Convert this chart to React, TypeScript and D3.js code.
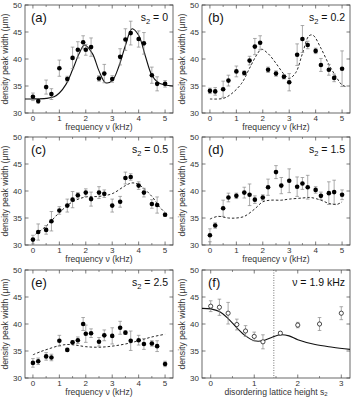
import React, { useRef, useEffect } from 'react'
import * as d3 from 'd3'

// measured points, panels (a)-(e): frequency in kHz, width in um
const freqA = [0, 0.2, 0.5, 0.7, 1, 1.3, 1.5, 1.7, 1.9, 2, 2.2, 2.5, 2.7, 3, 3.3, 3.5, 3.7, 4, 4.2, 4.5, 4.7, 5]
const widthA = [33.0, 32.2, 34.8, 33.5, 38.3, 36.3, 40.2, 41.7, 43.1, 41.7, 42.2, 36.4, 37.3, 36.3, 40.4, 43.6, 44.8, 43.7, 42.9, 37.0, 35.4, 35.4]
const errA = [0.7, 0.4, 1.3, 1.0, 1.5, 0.5, 2.0, 1.5, 1.2, 1.0, 1.7, 0.5, 1.7, 0.6, 1.5, 2.0, 2.2, 1.5, 2.0, 1.5, 1.3, 0.6]

const freqB = [0, 0.2, 0.5, 0.7, 1, 1.3, 1.5, 1.7, 1.9, 2.2, 2.5, 2.8, 3, 3.3, 3.5, 3.7, 4, 4.2, 4.5, 4.7, 5]
const widthB = [34.1, 34.0, 34.4, 36.0, 37.7, 37.4, 39.7, 42.3, 43.0, 38.0, 37.3, 36.7, 35.7, 40.8, 43.7, 42.6, 41.5, 38.9, 38.0, 36.5, 38.2]
const errB = [0.5, 0.7, 1.5, 1.0, 1.0, 0.4, 0.8, 1.5, 1.3, 0.5, 0.5, 0.4, 1.6, 2.0, 2.5, 0.7, 0.5, 1.2, 1.0, 0.7, 3.3]

const freqC = [0, 0.2, 0.5, 0.7, 1, 1.3, 1.5, 1.7, 2, 2.2, 2.5, 2.7, 3, 3.3, 3.5, 3.7, 4, 4.2, 4.5, 4.7, 5]
const widthC = [31.0, 32.4, 32.8, 34.4, 36.4, 37.3, 38.4, 39.2, 39.7, 38.5, 39.7, 39.5, 37.3, 38.0, 42.4, 42.6, 41.0, 39.7, 37.6, 37.4, 35.6]
const errC = [0.8, 1.5, 0.8, 1.8, 0.7, 1.2, 1.5, 0.5, 0.7, 1.3, 1.1, 0.7, 1.2, 1.0, 1.1, 0.6, 0.7, 0.8, 0.8, 1.5, 0.3]

const freqD = [0, 0.2, 0.5, 0.7, 1, 1.3, 1.5, 1.7, 2, 2.2, 2.5, 2.7, 3, 3.3, 3.5, 3.7, 4, 4.2, 4.5, 4.7, 5]
const widthD = [31.8, 33.6, 36.8, 38.8, 39.1, 39.7, 39.3, 38.4, 38.8, 40.7, 43.5, 41.0, 41.9, 40.8, 41.4, 40.7, 40.2, 39.1, 39.6, 39.8, 39.3]
const errD = [1.2, 0.5, 1.5, 0.8, 0.5, 1.0, 2.0, 0.7, 0.5, 1.5, 1.2, 1.5, 2.2, 1.8, 1.1, 2.2, 0.6, 0.7, 2.1, 2.2, 0.9]

const freqE = [0, 0.2, 0.5, 0.7, 1, 1.3, 1.5, 1.7, 1.9, 2, 2.2, 2.5, 2.7, 3, 3.3, 3.5, 3.7, 4, 4.2, 4.5, 4.7, 5]
const widthE = [32.8, 33.1, 34.0, 33.8, 36.9, 35.2, 36.6, 37.0, 40.0, 38.2, 38.3, 36.7, 37.9, 37.8, 39.3, 38.4, 36.9, 37.0, 36.3, 36.4, 35.9, 32.6]
const errE = [0.8, 0.6, 0.7, 0.6, 1.0, 0.3, 0.3, 0.6, 1.2, 1.6, 0.8, 0.8, 1.0, 1.5, 1.2, 0.3, 1.8, 0.9, 1.0, 0.5, 1.0, 0.5]

// panel (f): width vs disorder height at 1.9 kHz
const heightF = [0, 0.2, 0.4, 0.6, 0.8, 1.0, 1.2, 1.6, 2.0, 2.5, 3.0]
const widthF = [43.3, 43.1, 42.0, 39.9, 38.7, 37.7, 36.7, 38.3, 39.8, 40.0, 42.0]
const errF = [1.0, 1.5, 2.0, 1.0, 1.0, 0.8, 1.3, 0.3, 0.5, 1.2, 1.2]
const markerF = 1.45

// theory curves
const theoryXA = [-0.3, 0, 0.5, 0.8, 1.0, 1.25, 1.5, 1.75, 1.95, 2.25, 2.5, 2.75, 3.0, 3.25, 3.5, 3.75, 4.0, 4.25, 4.5, 4.75, 5.0, 5.3]
const theoryYA = [32.6, 32.6, 32.7, 33.0, 33.7, 35.3, 38.0, 41.0, 42.6, 41.0, 37.8, 35.6, 36.0, 38.6, 42.5, 45.6, 44.4, 40.6, 37.0, 35.6, 35.2, 35.0]
const theoryXB = [0, 0.5, 0.8, 1.2, 1.5, 1.8, 1.95, 2.2, 2.5, 2.8, 3.0, 3.25, 3.5, 3.75, 3.9, 4.2, 4.5, 4.8, 5.0, 5.2]
const theoryYB = [32.6, 32.7, 33.5, 35.5, 38.3, 41.0, 41.8, 41.0, 39.2, 37.2, 36.4, 37.5, 41.0, 44.3, 44.4, 42.0, 39.0, 36.5, 35.2, 34.8]
const theoryXC = [0.1, 0.5, 1.0, 1.5, 2.0, 2.5, 3.0, 3.5, 3.75, 4.0, 4.5, 4.8, 5.0]
const theoryYC = [32.0, 33.5, 36.0, 38.0, 38.9, 39.0, 39.5, 41.0, 41.5, 41.2, 39.0, 37.0, 36.0]
const theoryXD = [0, 0.3, 0.7, 1.0, 1.3, 1.7, 2.0, 2.3, 2.7, 3.0, 3.5, 3.8, 4.2, 4.5, 4.8, 5.0]
const theoryYD = [34.8, 35.3, 35.0, 35.0, 35.3, 36.7, 38.0, 38.3, 38.3, 38.5, 38.7, 38.8, 38.3, 37.7, 37.5, 38.0]
const theoryXE = [0, 0.3, 0.6, 1.0, 1.3, 1.6, 2.0, 2.5, 3.0, 3.5, 4.0, 4.5, 5.0]
const theoryYE = [34.3, 34.9, 35.4, 36.0, 36.2, 36.1, 35.8, 35.7, 35.9, 36.3, 36.9, 37.6, 38.1]
const theoryXF = [-0.2, 0, 0.2, 0.4, 0.6, 0.8, 1.0, 1.2, 1.4, 1.6, 1.8, 2.0, 2.4, 2.8, 3.2]
const theoryYF = [42.9, 42.8, 42.3, 41.0, 39.3, 37.8, 36.9, 36.9, 37.5, 38.0, 37.8, 37.1, 36.2, 35.7, 35.3]

const yTicks = [30, 35, 40, 45, 50]
const freqTicks = [0, 1, 2, 3, 4, 5]
const heightTicks = [0, 1, 2, 3]

const zip = (xs, ys, es?) => xs.map((x, i) => ({ x, y: ys[i], e: es ? es[i] : 0 }))

const panels = [
    { tag: '(a)', note: 's2=0', pts: zip(freqA, widthA, errA), fit: zip(theoryXA, theoryYA), dash: false, open: false },
    { tag: '(b)', note: 's2=0.2', pts: zip(freqB, widthB, errB), fit: zip(theoryXB, theoryYB), dash: true, open: false },
    { tag: '(c)', note: 's2=0.5', pts: zip(freqC, widthC, errC), fit: zip(theoryXC, theoryYC), dash: true, open: false },
    { tag: '(d)', note: 's2=1.5', pts: zip(freqD, widthD, errD), fit: zip(theoryXD, theoryYD), dash: true, open: false },
    { tag: '(e)', note: 's2=2.5', pts: zip(freqE, widthE, errE), fit: zip(theoryXE, theoryYE), dash: true, open: false },
    { tag: '(f)', note: 'nu', pts: zip(heightF, widthF, errF), fit: zip(theoryXF, theoryYF), dash: false, open: true },
]

const App = () => {
    const element = useRef(null)

    useEffect(() => {
        let svg = d3.select(element.current)
        svg.selectAll('*').remove()

        let font = 'Arial, "Liberation Sans", sans-serif'
        let colX = [25, 202]
        let rowY = [5, 137, 270]
        let w = 148, h = 108
        let axisColor = '#444'

        panels.forEach((p, k) => {
            let isF = k === 5
            let left = colX[k % 2], top = rowY[Math.floor(k / 2)]
            let g = svg.append('g').attr('transform', `translate(${left},${top})`)

            let x = d3.scaleLinear()
                .domain(isF ? [-0.2, 3.2] : [-0.3, 5.3])
                .range([0, w])
            let y = d3.scaleLinear().domain([30, 50]).range([h, 0])

            let clipId = 'clip' + k
            g.append('clipPath').attr('id', clipId)
                .append('rect').attr('width', w).attr('height', h)

            // frame
            g.append('rect')
                .attr('width', w).attr('height', h)
                .attr('fill', 'none').attr('stroke', axisColor).attr('stroke-width', 0.8)

            // ticks, inward on all four sides
            let major = isF ? heightTicks : freqTicks
            let minor = d3.range(0.5, isF ? 3.2 : 5.3, 1)
            major.forEach(t => {
                g.append('line').attr('x1', x(t)).attr('x2', x(t)).attr('y1', h).attr('y2', h - 3.5)
                    .attr('stroke', axisColor).attr('stroke-width', 0.7)
                g.append('line').attr('x1', x(t)).attr('x2', x(t)).attr('y1', 0).attr('y2', 3.5)
                    .attr('stroke', axisColor).attr('stroke-width', 0.7)
                g.append('text').attr('x', x(t)).attr('y', h + 8)
                    .attr('text-anchor', 'middle').attr('font-size', 8).attr('font-family', font)
                    .attr('fill', '#333').text(t)
            })
            minor.forEach(t => {
                g.append('line').attr('x1', x(t)).attr('x2', x(t)).attr('y1', h).attr('y2', h - 2)
                    .attr('stroke', axisColor).attr('stroke-width', 0.6)
                g.append('line').attr('x1', x(t)).attr('x2', x(t)).attr('y1', 0).attr('y2', 2)
                    .attr('stroke', axisColor).attr('stroke-width', 0.6)
            })
            yTicks.forEach(t => {
                g.append('line').attr('x1', 0).attr('x2', 3.5).attr('y1', y(t)).attr('y2', y(t))
                    .attr('stroke', axisColor).attr('stroke-width', 0.7)
                g.append('line').attr('x1', w).attr('x2', w - 3.5).attr('y1', y(t)).attr('y2', y(t))
                    .attr('stroke', axisColor).attr('stroke-width', 0.7)
                g.append('text').attr('x', -3).attr('y', y(t) + 3)
                    .attr('text-anchor', 'end').attr('font-size', 8).attr('font-family', font)
                    .attr('fill', '#333').text(t)
            })

            // axis titles
            g.append('text')
                .attr('transform', `translate(${-17},${h / 2}) rotate(-90)`)
                .attr('text-anchor', 'middle').attr('font-size', 8.6).attr('font-family', font)
                .attr('fill', '#333').text('density peak width (μm)')
            let xt = g.append('text').attr('x', w / 2).attr('y', h + 16.5)
                .attr('text-anchor', 'middle').attr('font-size', 8.6).attr('font-family', font).attr('fill', '#333')
            if (isF) {
                xt.text('disordering lattice height s')
                xt.append('tspan').attr('font-size', 6).attr('dy', 1.5).text('2')
            } else {
                xt.text('frequency ν (kHz)')
            }

            // panel tag and parameter
            g.append('text').attr('x', 6).attr('y', 17)
                .attr('font-size', 13).attr('font-family', font).attr('fill', '#111').text(p.tag)
            let nt = g.append('text').attr('x', w - 5).attr('y', 16)
                .attr('text-anchor', 'end').attr('font-size', 10.5).attr('font-family', font).attr('fill', '#111')
            if (isF) {
                nt.text('ν = 1.9 kHz')
            } else {
                nt.text('s')
                nt.append('tspan').attr('font-size', 7.5).attr('dy', 2.5).text('2')
                nt.append('tspan').attr('dy', -2.5).text(' = ' + p.note.split('=')[1])
            }

            if (isF) {
                g.append('line')
                    .attr('x1', x(markerF)).attr('x2', x(markerF))
                    .attr('y1', 0).attr('y2', h)
                    .attr('stroke', '#555').attr('stroke-width', 0.8).attr('stroke-dasharray', '1,1.5')
            }

            // theory curve
            let line = d3.line()
                .x(d => x(d.x))
                .y(d => y(d.y))
                .curve(d3.curveCatmullRom.alpha(0.5))
            g.append('path')
                .datum(p.fit)
                .attr('d', line)
                .attr('clip-path', `url(#${clipId})`)
                .attr('fill', 'none')
                .attr('stroke', '#111')
                .attr('stroke-width', p.dash ? 0.9 : 1.1)
                .attr('stroke-dasharray', p.dash ? '2.5,2' : null)

            // error bars
            let eb = g.append('g').attr('stroke', '#888').attr('stroke-width', 0.7)
            p.pts.forEach(d => {
                eb.append('line').attr('x1', x(d.x)).attr('x2', x(d.x))
                    .attr('y1', y(d.y - d.e)).attr('y2', y(d.y + d.e))
                eb.append('line').attr('x1', x(d.x) - 1.8).attr('x2', x(d.x) + 1.8)
                    .attr('y1', y(d.y - d.e)).attr('y2', y(d.y - d.e))
                eb.append('line').attr('x1', x(d.x) - 1.8).attr('x2', x(d.x) + 1.8)
                    .attr('y1', y(d.y + d.e)).attr('y2', y(d.y + d.e))
            })

            // points
            g.selectAll('circle.pt')
                .data(p.pts)
                .enter()
                .append('circle')
                .attr('class', 'pt')
                .attr('cx', d => x(d.x))
                .attr('cy', d => y(d.y))
                .attr('r', p.open ? 2.1 : 2.3)
                .attr('fill', p.open ? '#fff' : '#000')
                .attr('stroke', '#000')
                .attr('stroke-width', p.open ? 0.7 : 0)
        })
    }, [])

    return (
        <svg ref={element} width={353} height={399}
            style={{ position: 'absolute', left: 0, top: 0, background: '#fff' }} />
    )
}

export default App
